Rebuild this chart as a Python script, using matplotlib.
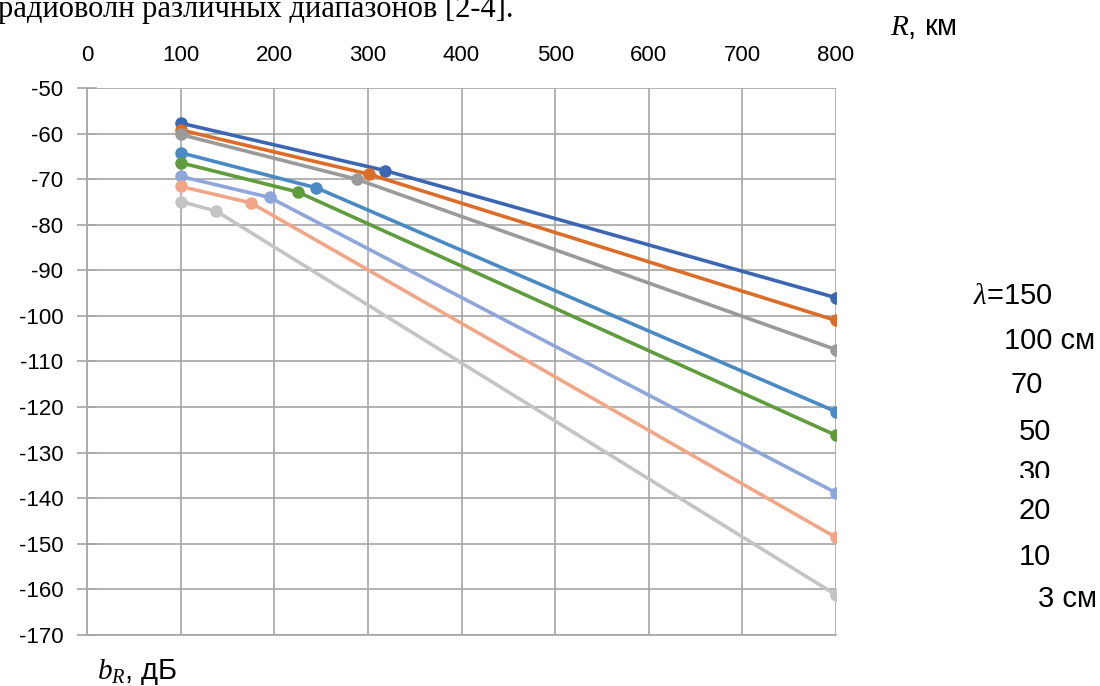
#!/usr/bin/env python3
"""
Attenuation b_R (dB) vs distance R (km) for several wavelengths.
Writes out.png (1100x686).
"""

import matplotlib
matplotlib.use("Agg")
import matplotlib.pyplot as plt
from matplotlib.transforms import Bbox


WAVELENGTH_LABELS = ["$\\lambda$=150", "100 см", "70", "50", "30", "20", "10", "3 см"]

R_KM = [
    [100, 318, 800],
    [100, 301, 800],
    [100, 288, 800],
    [100, 245, 800],
    [100, 225, 800],
    [100, 195, 800],
    [100, 175, 800],
    [100, 138, 800],
]

B_DB = [
    [-57.7, -68.1, -96.0],
    [-59.2, -68.9, -101.0],
    [-60.2, -70.0, -107.4],
    [-64.2, -71.9, -121.0],
    [-66.4, -72.8, -126.2],
    [-69.4, -74.0, -138.8],
    [-71.6, -75.2, -148.6],
    [-74.9, -77.0, -161.2],
]

X_TICKS = [0, 100, 200, 300, 400, 500, 600, 700, 800]
Y_TICKS = [-50, -60, -70, -80, -90, -100, -110, -120, -130, -140, -150, -160, -170]

COLORS = ["#3d66b2", "#dc6d28", "#9a9a9a", "#4a8ac4", "#5f9c3c",
          "#8fa6da", "#f2a687", "#c4c4c4"]

# right-hand labels: (x px, y px) centres in the 1100x686 canvas
LABEL_POS = [(1013, 296), (1050, 341), (1027, 385), (1035, 432),
             (1035, 473), (1035, 511), (1035, 557), (1067, 599)]

W, H = 1100, 686

plt.rcParams["font.family"] = ["Liberation Sans", "DejaVu Sans"]
plt.rcParams["axes.unicode_minus"] = False
plt.rcParams["mathtext.fontset"] = "custom"
plt.rcParams["mathtext.it"] = "Liberation Serif:italic"
plt.rcParams["mathtext.rm"] = "Liberation Serif"


def px(x, y):
    return x / W, 1 - y / H


def main():
    fig = plt.figure(figsize=(11, 6.86), dpi=100)
    ax = fig.add_axes([87 / W, 1 - 635 / H, (836 - 87) / W, (635 - 88) / H])

    for r, b, c in zip(R_KM, B_DB, COLORS):
        ax.plot(r, b, color=c, lw=2.6, marker="o", ms=8, solid_capstyle="round", zorder=3)

    ax.set_xlim(0, 800)
    ax.set_ylim(-170, -50)
    ax.set_xticks(X_TICKS)
    ax.set_yticks(Y_TICKS)
    ax.xaxis.tick_top()
    ax.tick_params(axis="x", length=0, pad=16, labelsize=16)
    ax.tick_params(axis="y", direction="inout", length=14, width=1.2,
                   color="#a6a6a6", pad=10, labelsize=16)

    ax.grid(True, color="#a6a6a6", lw=1.2, zorder=0)
    for side in ["top", "right"]:
        ax.spines[side].set_visible(False)
    for side in ["left", "bottom"]:
        ax.spines[side].set_color("#a6a6a6")
        ax.spines[side].set_linewidth(1.2)

    # clipped caption line above the chart
    fig.text(*px(-2, 17), "радиоволн различных диапазонов [2-4].",
             family="Liberation Serif", fontsize=22, va="baseline", ha="left")

    fig.text(*px(890, 27), "$R$, км", fontsize=21, va="center", ha="left")
    fig.text(*px(97, 672), "$b_R$, дБ", fontsize=21, va="center", ha="left")

    for label, (x, y) in zip(WAVELENGTH_LABELS, LABEL_POS):
        t = fig.text(*px(x, y), label, fontsize=21, va="center", ha="center")
        if label == "30":
            # bottom of this label is cut off in the original
            t.set_clip_box(Bbox.from_extents(0, H - 478, W, H))
            t.set_clip_on(True)

    fig.savefig("out.png", dpi=100)
    plt.close(fig)


if __name__ == "__main__":
    main()
